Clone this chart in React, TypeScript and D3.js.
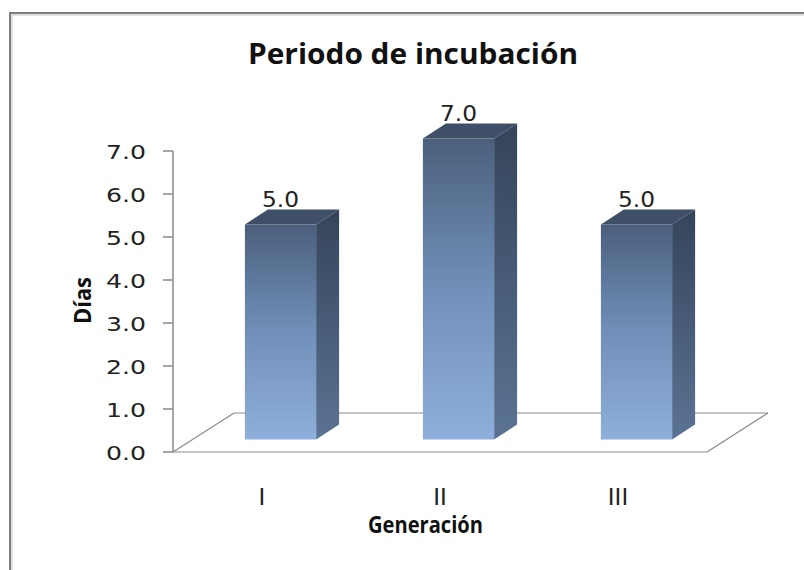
import React from "react";
import * as d3 from "d3";

// Chart data
const categories: string[] = ["I", "II", "III"];
const values: number[] = [5.0, 7.0, 5.0];
const yTicks: number[] = [0, 1, 2, 3, 4, 5, 6, 7];
const titleText = "Periodo de incubación";
const xAxisTitle = "Generación";
const yAxisTitle = "Días";

const W = 804;
const H = 570;

// Front plane of the 3D floor
const floorLeft = 173;
const floorRight = 707;
const floorFrontY = 452;
// Floor depth offset (front -> back)
const floorDX = 61;
const floorDY = -39;
// Bar front plane offset from floor front and bar depth
const barShiftX = 18.5;
const barShiftY = -12.5;
const barDX = 23;
const barDY = -15;

export default function App() {
  const y = d3.scaleLinear().domain([0, 7]).range([floorFrontY, 151]);
  const x = d3
    .scaleBand<string>()
    .domain(categories)
    .range([floorLeft, floorRight])
    .padding(0);
  const bw = x.bandwidth();
  const barW = bw * 0.4;
  const fmt = d3.format(".1f");

  const gray = "#8a8a8a";

  return (
    <svg
      width={W}
      height={H}
      style={{ position: "absolute", left: 0, top: 0, background: "#fff" }}
    >
      <defs>
        <linearGradient id="frontGrad" x1="0" y1="0" x2="0" y2="1">
          <stop offset="0" stopColor="#4b5f7c" />
          <stop offset="0.5" stopColor="#7090b9" />
          <stop offset="1" stopColor="#8fafdc" />
        </linearGradient>
        <linearGradient id="sideGrad" x1="0" y1="0" x2="0" y2="1">
          <stop offset="0" stopColor="#34445a" />
          <stop offset="1" stopColor="#5b7394" />
        </linearGradient>
      </defs>

      {/* chart area frame */}
      <rect x={10} y={13} width={W + 20} height={H + 20} fill="#fff" stroke="#7f7f7f" strokeWidth={2} />
      <rect x={12} y={15} width={W + 20} height={H + 20} fill="none" stroke="#d6d6d6" strokeWidth={1.5} />

      {/* title */}
      <text
        x={248}
        y={64}
        fontFamily="'Open Sans', sans-serif"
        fontWeight={700}
        fontSize={29}
        textLength={330}
        lengthAdjust="spacingAndGlyphs"
        fill="#111"
      >
        {titleText}
      </text>

      {/* floor */}
      <g stroke={gray} strokeWidth={1.2} fill="none">
        <line x1={floorLeft} y1={floorFrontY} x2={floorRight} y2={floorFrontY} />
        <line x1={floorLeft} y1={floorFrontY} x2={floorLeft + floorDX} y2={floorFrontY + floorDY} />
        <line x1={floorRight} y1={floorFrontY} x2={floorRight + floorDX} y2={floorFrontY + floorDY} />
        <line
          x1={floorLeft + floorDX}
          y1={floorFrontY + floorDY}
          x2={floorRight + floorDX}
          y2={floorFrontY + floorDY}
        />
      </g>

      {/* value axis */}
      <g stroke={gray} strokeWidth={1.5}>
        <line x1={floorLeft} y1={y(7)} x2={floorLeft} y2={y(0)} />
        {yTicks.map((t) => (
          <line key={t} x1={floorLeft - 10} y1={y(t)} x2={floorLeft} y2={y(t)} />
        ))}
      </g>
      {yTicks.map((t) => (
        <text
          key={t}
          x={106}
          y={y(t) + 8}
          fontFamily="'DejaVu Sans', sans-serif"
          fontSize={20}
          textLength={40}
          lengthAdjust="spacingAndGlyphs"
          fill="#222"
        >
          {fmt(t)}
        </text>
      ))}

      {/* bars */}
      {categories.map((c, i) => {
        const cx = (x(c) as number) + bw / 2 + barShiftX;
        const x0 = cx - barW / 2;
        const x1 = cx + barW / 2;
        const yb = y(0) + barShiftY;
        const yt = y(values[i]) + barShiftY;
        const side = `M${x1},${yt} L${x1 + barDX},${yt + barDY} L${x1 + barDX},${yb + barDY} L${x1},${yb} Z`;
        const top = `M${x0},${yt} L${x0 + barDX},${yt + barDY} L${x1 + barDX},${yt + barDY} L${x1},${yt} Z`;
        return (
          <g key={c}>
            <path d={side} fill="url(#sideGrad)" />
            <path d={top} fill="#3e4f67" />
            <rect x={x0} y={yt} width={barW} height={yb - yt} fill="url(#frontGrad)" />
            <text
              x={cx - 18.5}
              y={yt + barDY - 3}
              fontFamily="'DejaVu Sans', sans-serif"
              fontSize={21}
              textLength={37}
              lengthAdjust="spacingAndGlyphs"
              fill="#222"
            >
              {fmt(values[i])}
            </text>
          </g>
        );
      })}

      {/* category labels */}
      {categories.map((c) => (
        <text
          key={c}
          x={(x(c) as number) + bw / 2}
          y={505}
          textAnchor="middle"
          fontFamily="'DejaVu Sans', sans-serif"
          fontSize={23}
          fill="#222"
        >
          {c}
        </text>
      ))}

      {/* axis titles */}
      <text
        x={368}
        y={533}
        fontFamily="'Open Sans', sans-serif"
        fontWeight={700}
        fontSize={23}
        textLength={115}
        lengthAdjust="spacingAndGlyphs"
        fill="#111"
      >
        {xAxisTitle}
      </text>
      <text
        transform="translate(91,324) rotate(-90)"
        x={0}
        y={0}
        fontFamily="'Open Sans', sans-serif"
        fontWeight={700}
        fontSize={23}
        textLength={47}
        lengthAdjust="spacingAndGlyphs"
        fill="#111"
      >
        {yAxisTitle}
      </text>
    </svg>
  );
}
